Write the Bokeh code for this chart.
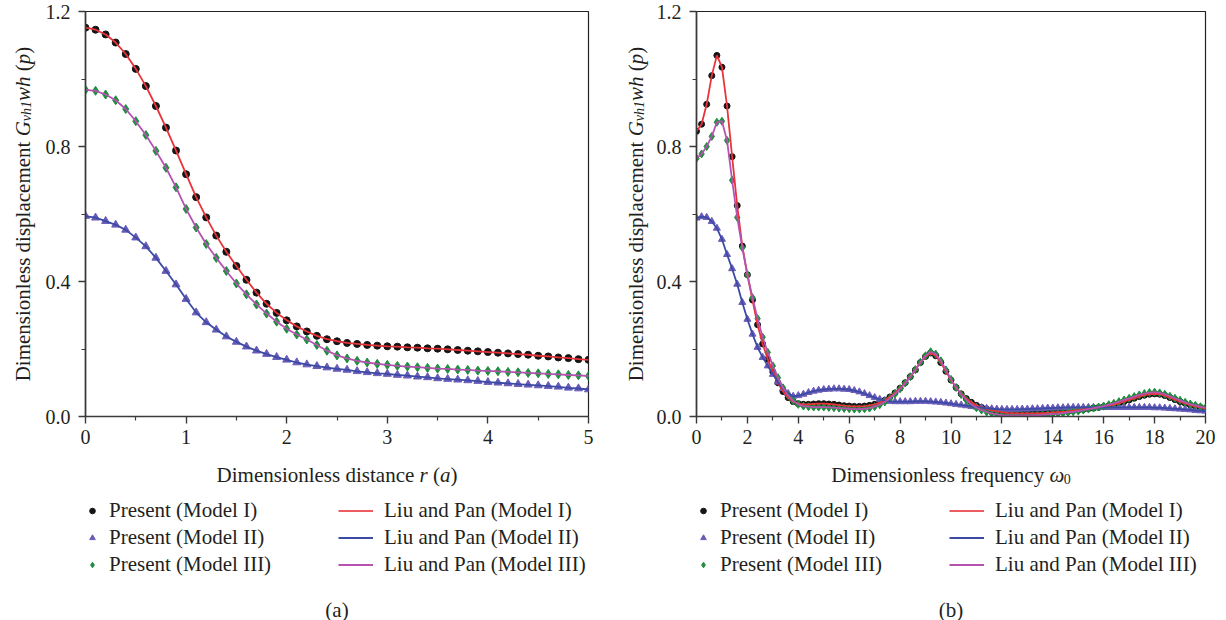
import math
import numpy as np
from bokeh.plotting import figure
from bokeh.models import (FixedTicker, PrintfTickFormatter, Label, Legend,
                          LegendItem, Range1d)
from bokeh.layouts import row, column
from bokeh.embed import file_html
from bokeh.resources import INLINE

# ---------------- data: panel (a) ----------------
r_a = np.round(np.arange(0, 5.001, 0.1), 1)
a_model1 = [1.152, 1.146, 1.132, 1.108, 1.074, 1.030, 0.979, 0.920, 0.856, 0.788,
            0.718, 0.650, 0.590, 0.536, 0.488, 0.446, 0.405, 0.367, 0.334, 0.307,
            0.285, 0.267, 0.252, 0.239, 0.229, 0.223, 0.218, 0.215, 0.212, 0.210,
            0.208, 0.207, 0.205, 0.204, 0.202, 0.201, 0.199, 0.197, 0.195, 0.193,
            0.191, 0.189, 0.187, 0.185, 0.183, 0.180, 0.178, 0.175, 0.173, 0.170,
            0.168]
a_model2 = [0.594, 0.589, 0.579, 0.568, 0.553, 0.530, 0.504, 0.470, 0.431, 0.391,
            0.348, 0.308, 0.279, 0.257, 0.237, 0.221, 0.207, 0.195, 0.185, 0.176,
            0.168, 0.160, 0.154, 0.149, 0.145, 0.141, 0.138, 0.134, 0.131, 0.128,
            0.126, 0.123, 0.121, 0.118, 0.116, 0.113, 0.111, 0.109, 0.107, 0.105,
            0.102, 0.100, 0.098, 0.096, 0.094, 0.092, 0.090, 0.088, 0.085, 0.083,
            0.080]
a_model3 = [0.968, 0.965, 0.954, 0.937, 0.911, 0.875, 0.834, 0.787, 0.737, 0.679,
            0.615, 0.560, 0.511, 0.470, 0.431, 0.394, 0.362, 0.332, 0.305, 0.281,
            0.260, 0.243, 0.228, 0.212, 0.195, 0.181, 0.172, 0.165, 0.160, 0.156,
            0.153, 0.150, 0.148, 0.146, 0.144, 0.142, 0.141, 0.139, 0.138, 0.136,
            0.135, 0.134, 0.132, 0.131, 0.129, 0.128, 0.126, 0.125, 0.123, 0.122,
            0.120]

# ---------------- data: panel (b) ----------------
w_b = np.round(np.arange(0, 20.001, 0.2), 1)
b_model1 = [0.845, 0.866, 0.925, 1.010, 1.070, 1.035, 0.920, 0.770, 0.625, 0.505,
            0.420, 0.345, 0.272, 0.215, 0.170, 0.132, 0.100, 0.074, 0.056, 0.044,
            0.038, 0.036, 0.036, 0.037, 0.038, 0.038, 0.037, 0.036, 0.034, 0.032,
            0.031, 0.030, 0.030, 0.031, 0.033, 0.036, 0.041, 0.048, 0.058, 0.070,
            0.084, 0.100, 0.118, 0.138, 0.160, 0.178, 0.188, 0.180, 0.160, 0.134,
            0.108, 0.086, 0.067, 0.053, 0.042, 0.033, 0.027, 0.022, 0.018, 0.015,
            0.013, 0.011, 0.010, 0.009, 0.009, 0.009, 0.009, 0.009, 0.010, 0.011,
            0.012, 0.013, 0.014, 0.015, 0.017, 0.019, 0.021, 0.023, 0.025, 0.027,
            0.029, 0.032, 0.035, 0.039, 0.044, 0.049, 0.054, 0.059, 0.063, 0.066,
            0.067, 0.066, 0.062, 0.056, 0.050, 0.044, 0.039, 0.034, 0.030, 0.027,
            0.024]
b_model2 = [0.588, 0.592, 0.590, 0.578, 0.558, 0.525, 0.480, 0.438, 0.392, 0.338,
            0.288, 0.244, 0.205, 0.175, 0.150, 0.125, 0.102, 0.083, 0.068, 0.060,
            0.062, 0.066, 0.071, 0.075, 0.078, 0.080, 0.081, 0.082, 0.082, 0.081,
            0.080, 0.077, 0.073, 0.068, 0.062, 0.056, 0.051, 0.047, 0.045, 0.044,
            0.044, 0.044, 0.044, 0.045, 0.045, 0.045, 0.044, 0.043, 0.042, 0.040,
            0.038, 0.036, 0.034, 0.032, 0.030, 0.028, 0.026, 0.024, 0.023, 0.022,
            0.021, 0.021, 0.021, 0.021, 0.022, 0.022, 0.023, 0.023, 0.024, 0.025,
            0.025, 0.026, 0.026, 0.027, 0.027, 0.027, 0.027, 0.027, 0.027, 0.027,
            0.027, 0.027, 0.027, 0.027, 0.027, 0.027, 0.027, 0.027, 0.027, 0.027,
            0.026, 0.026, 0.025, 0.024, 0.023, 0.022, 0.021, 0.020, 0.018, 0.017,
            0.016]
b_model3 = [0.765, 0.778, 0.800, 0.830, 0.872, 0.875, 0.818, 0.700, 0.590, 0.500,
            0.420, 0.352, 0.290, 0.235, 0.190, 0.150, 0.115, 0.085, 0.062, 0.046,
            0.036, 0.031, 0.029, 0.028, 0.028, 0.028, 0.027, 0.026, 0.025, 0.024,
            0.023, 0.022, 0.022, 0.023, 0.025, 0.029, 0.035, 0.043, 0.054, 0.067,
            0.082, 0.099, 0.118, 0.139, 0.161, 0.180, 0.192, 0.185, 0.165, 0.138,
            0.110, 0.086, 0.065, 0.049, 0.036, 0.026, 0.019, 0.013, 0.009, 0.006,
            0.004, 0.003, 0.003, 0.003, 0.003, 0.003, 0.003, 0.004, 0.005, 0.006,
            0.007, 0.008, 0.010, 0.012, 0.014, 0.016, 0.019, 0.022, 0.025, 0.028,
            0.031, 0.035, 0.039, 0.044, 0.049, 0.054, 0.059, 0.064, 0.068, 0.071,
            0.072, 0.070, 0.066, 0.060, 0.054, 0.048, 0.042, 0.037, 0.033, 0.029,
            0.026]

y_ticks = [0.0, 0.4, 0.8, 1.2]
y_minor = [0.2, 0.6, 1.0]
xa_ticks = [0, 1, 2, 3, 4, 5]
xa_minor = [0.5, 1.5, 2.5, 3.5, 4.5]
xb_ticks = [0, 2, 4, 6, 8, 10, 12, 14, 16, 18, 20]
xb_minor = [1, 3, 5, 7, 9, 11, 13, 15, 17, 19]

present_labels = ["Present (Model I)", "Present (Model II)", "Present (Model III)"]
liu_labels = ["Liu and Pan (Model I)", "Liu and Pan (Model II)", "Liu and Pan (Model III)"]

# ---------------- style ----------------
FONT = "Liberation Serif"
TXT = "#231f20"
C_DOT = "#151515"
C_TRI = "#6a5bb8"
C_DIA = "#1f8f3f"
C_RED = "#e8333a"
C_BLUE = "#3b4ba5"
C_MAG = "#b653b0"
FS = 21      # label / legend font size (px)

W_R = {' ': 250, '(': 333, ')': 333, '.': 250, 'D': 722, 'G': 722, 'I': 333,
       'a': 444, 'c': 444, 'd': 500, 'e': 444, 'f': 333, 'i': 278, 'l': 278,
       'm': 778, 'n': 500, 'o': 500, 'p': 500, 'q': 500, 'r': 333, 's': 389,
       't': 278, 'u': 500, 'y': 500, 'b': 500, '0': 500, '1': 500}
W_I = {'G': 722, 'v': 444, 'h': 500, '1': 500, 'w': 667, 'p': 500, 'r': 389,
       'a': 500, '\u03c9': 680, '0': 500}

PANEL_W = 613
YLAB_W = 40
PLOT_H = 450
BOT_H = 620 - PLOT_H


def text_w(s, size, italic):
    tab = W_I if italic else W_R
    return sum(tab.get(ch, 500) for ch in s) / 1000.0 * size


def rich(p, pieces, cx, cy, vertical=False):
    """pieces: (text, italic, size, shift); cx, cy in frame screen units."""
    widths = [text_w(t, s, it) for (t, it, s, sh) in pieces]
    total = sum(widths)
    pos = -total / 2.0
    for (t, it, s, sh), w in zip(pieces, widths):
        core = t.strip(" ")
        lead = text_w(t[:len(t) - len(t.lstrip(" "))], s, it)
        if core:
            if vertical:
                lab = Label(x=cx + sh, y=cy + pos + lead, angle=math.pi / 2,
                            x_units="screen", y_units="screen", text=core)
            else:
                lab = Label(x=cx + pos + lead, y=cy - sh, x_units="screen",
                            y_units="screen", text=core)
            lab.text_font = FONT
            lab.text_font_size = f"{s}px"
            lab.text_font_style = "italic" if it else "normal"
            lab.text_color = TXT
            lab.text_align = "left"
            lab.text_baseline = "alphabetic"
            p.add_layout(lab)
        pos += w


def blank(w, h, top=0, bottom=0):
    f = figure(width=w, height=h, x_range=Range1d(0, 1), y_range=Range1d(0, 1),
               output_backend="svg", toolbar_location=None,
               x_axis_type=None, y_axis_type=None,
               min_border_left=0, min_border_right=0, min_border_top=top,
               min_border_bottom=bottom)
    f.grid.visible = False
    f.outline_line_color = None
    f.background_fill_color = "white"
    f.border_fill_color = "white"
    return f


def make_plot(x, m1, m2, m3, x_end, xt, xm, left, right, msize):
    pw = PANEL_W - YLAB_W
    p = figure(width=pw, height=PLOT_H, x_range=Range1d(0, x_end),
               y_range=Range1d(0, 1.2), output_backend="svg",
               toolbar_location=None, min_border_left=left,
               min_border_right=right, min_border_top=11,
               min_border_bottom=PLOT_H - 416)
    p.grid.visible = False
    p.outline_line_color = "#222222"
    p.outline_line_width = 1.2
    p.background_fill_color = "white"
    p.border_fill_color = "white"

    for ax, ticks, minor, fmt in ((p.xaxis[0], xt, xm, "%d"),
                                  (p.yaxis[0], y_ticks, y_minor, "%.1f")):
        ax.ticker = FixedTicker(ticks=ticks, minor_ticks=minor)
        ax.formatter = PrintfTickFormatter(format=fmt)
        ax.axis_line_color = "#3a3a3a"
        ax.axis_line_width = 1.6
        ax.major_tick_line_color = "#3a3a3a"
        ax.minor_tick_line_color = "#3a3a3a"
        ax.major_tick_line_width = 1.4
        ax.minor_tick_line_width = 1.2
        ax.major_tick_in = 0
        ax.minor_tick_in = 0
        ax.major_tick_out = 7
        ax.minor_tick_out = 4
        ax.major_label_text_font = FONT
        ax.major_label_text_font_size = "20px"
        ax.major_label_text_color = TXT
    p.xaxis.major_label_standoff = 6
    p.yaxis.major_label_standoff = 8

    p.scatter(x, m1, marker="circle", size=msize[0], color=C_DOT)
    p.scatter(x, m2, marker="triangle", size=msize[1], color=C_TRI)
    p.scatter(x, m3, marker="diamond", size=msize[2], color=C_DIA)
    p.line(x, m1, line_color=C_RED, line_width=1.8)
    p.line(x, m2, line_color=C_BLUE, line_width=1.8)
    p.line(x, m3, line_color=C_MAG, line_width=1.8)
    return p


def make_ylabel():
    yl = blank(YLAB_W, PLOT_H, top=11, bottom=PLOT_H - 416)
    rich(yl, [("Dimensionless displacement ", False, FS, 0),
              ("G", True, FS, 0), ("vh1", True, 14, 4), ("wh", True, FS, 0),
              (" (", False, FS, 0), ("p", True, FS, 0), (")", False, FS, 0)],
         22, (416 - 11) / 2.0, vertical=True)
    return yl


def make_bottom(frame_l, frame_r, xlabel, tag):
    b = blank(PANEL_W, BOT_H)
    nan = [float("nan")]
    d1 = b.scatter(nan, nan, marker="circle", size=7, color=C_DOT)
    d2 = b.scatter(nan, nan, marker="triangle", size=9, color=C_TRI)
    d3 = b.scatter(nan, nan, marker="diamond", size=11, color=C_DIA)
    e1 = b.line(nan, nan, line_color=C_RED, line_width=2.2, line_alpha=0.8)
    e2 = b.line(nan, nan, line_color=C_BLUE, line_width=2.2)
    e3 = b.line(nan, nan, line_color=C_MAG, line_width=2.2)

    def legend(items, loc, gw, standoff):
        lg = Legend(items=items, location=loc, orientation="vertical")
        lg.label_text_font = FONT
        lg.label_text_font_size = f"{FS}px"
        lg.label_text_color = TXT
        lg.glyph_width = gw
        lg.glyph_height = 27
        lg.label_height = 27
        lg.label_standoff = standoff
        lg.spacing = 0
        lg.padding = 0
        lg.margin = 0
        lg.border_line_color = None
        lg.background_fill_alpha = 0
        b.add_layout(lg)

    legend([LegendItem(label=present_labels[0], renderers=[d1]),
            LegendItem(label=present_labels[1], renderers=[d2]),
            LegendItem(label=present_labels[2], renderers=[d3])],
           (frame_l, 42.5), 14, 10)
    legend([LegendItem(label=liu_labels[0], renderers=[e1]),
            LegendItem(label=liu_labels[1], renderers=[e2]),
            LegendItem(label=liu_labels[2], renderers=[e3])],
           (frame_l + 253, 42.5), 35, 11)
    fc = (frame_l + frame_r) / 2.0
    rich(b, xlabel, fc, BOT_H - 24)
    rich(b, [(tag, False, FS, 0)], fc, BOT_H - 159)
    return b


pa = make_plot(r_a, a_model1, a_model2, a_model3, 5, xa_ticks, xa_minor,
               85 - YLAB_W, 25, (7, 8, 9))
pb = make_plot(w_b, b_model1, b_model2, b_model3, 20, xb_ticks, xb_minor,
               696 - PANEL_W - YLAB_W, 21, (6, 7, 8))
ba = make_bottom(85, 588,
                 [("Dimensionless distance ", False, FS, 0), ("r", True, FS, 0),
                  (" (", False, FS, 0), ("a", True, FS, 0), (")", False, FS, 0)],
                 "(a)")
bb = make_bottom(696 - PANEL_W, 1205 - PANEL_W,
                 [("Dimensionless frequency ", False, FS, 0),
                  ("\u03c9", True, FS, 0), ("0", False, 14, 4)],
                 "(b)")

top = row(make_ylabel(), pa, make_ylabel(), pb, spacing=0)
bottom = row(ba, bb, spacing=0)
layout = column(top, bottom, spacing=0)
open("out.html", "w").write(file_html(layout, INLINE))
